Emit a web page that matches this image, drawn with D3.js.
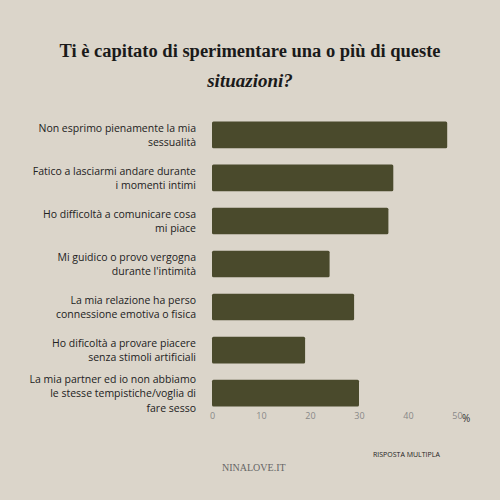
<!DOCTYPE html>
<html><head><meta charset="utf-8">
<script src="https://cdn.jsdelivr.net/npm/d3@7"></script>
<style>body{margin:0;background:#dbd5ca}svg{display:block}</style>
</head><body><svg width="500" height="500"></svg>
<script>
const categories = [
 ["Non esprimo pienamente la mia","sessualità"],
 ["Fatico a lasciarmi andare durante","i momenti intimi"],
 ["Ho difficoltà a comunicare cosa","mi piace"],
 ["Mi guidico o provo vergogna","durante l'intimità"],
 ["La mia relazione ha perso","connessione emotiva o fisica"],
 ["Ho dificoltà a provare piacere","senza stimoli artificiali"],
 ["La mia partner ed io non abbiamo","le stesse tempistiche/voglia di","fare sesso"]
];
const values = [48, 37, 36, 24, 29, 19, 30];
const ticks = [0,10,20,30,40,50];
const svg = d3.select("svg");
svg.append("rect").attr("width",500).attr("height",500).attr("fill","#dbd5ca");
const x = d3.scaleLinear().domain([0,50]).range([212,457]);
const y = d3.scaleBand().domain(d3.range(values.length)).range([113,415]).paddingInner(0.38).paddingOuter(0.2);
svg.selectAll(".bar").data(values).join("rect")
 .attr("x",x(0)).attr("y",(d,i)=>y(i)).attr("width",d=>x(d)-x(0)).attr("height",y.bandwidth())
 .attr("fill","#4a4a2c").attr("rx",1.5);
const lab = svg.selectAll(".lab").data(categories).join("text")
 .attr("text-anchor","end").attr("font-family","Open Sans").attr("font-size",10.5).attr("fill","#222");
lab.each(function(lines,i){
  const n=lines.length, cy=y(i)+y.bandwidth()/2;
  d3.select(this).selectAll("tspan").data(lines).join("tspan")
   .attr("x",196).attr("y",(d,j)=>cy+(j-(n-1)/2)*14.5+4).text(d=>d);
});
const ax = svg.append("g").attr("transform","translate(0,410)")
 .call(d3.axisBottom(x).tickValues(ticks).tickSize(0).tickFormat(d3.format("d")));
ax.select(".domain").remove();
ax.selectAll("text").attr("font-family","Open Sans").attr("font-size",9).attr("fill","#888");
svg.append("text").attr("x",462).attr("y",422).attr("font-family","Open Sans").attr("font-size",10).attr("fill","#333").text("%");
svg.append("text").attr("x",250).attr("y",57).attr("text-anchor","middle").attr("font-family","Liberation Serif").attr("font-weight","bold").attr("font-size",18.5).attr("fill","#1a1a1a").text("Ti è capitato di sperimentare una o più di queste");
svg.append("text").attr("x",250).attr("y",87).attr("text-anchor","middle").attr("font-family","Liberation Serif").attr("font-weight","bold").attr("font-style","italic").attr("font-size",19).attr("fill","#1a1a1a").text("situazioni?");
svg.append("text").attr("x",373).attr("y",457).attr("font-family","Open Sans").attr("font-size",7).attr("fill","#222").text("RISPOSTA MULTIPLA");
svg.append("text").attr("x",222).attr("y",471).attr("font-family","Liberation Serif").attr("font-size",10).attr("fill","#666").text("NINALOVE.IT");
</script></body></html>
